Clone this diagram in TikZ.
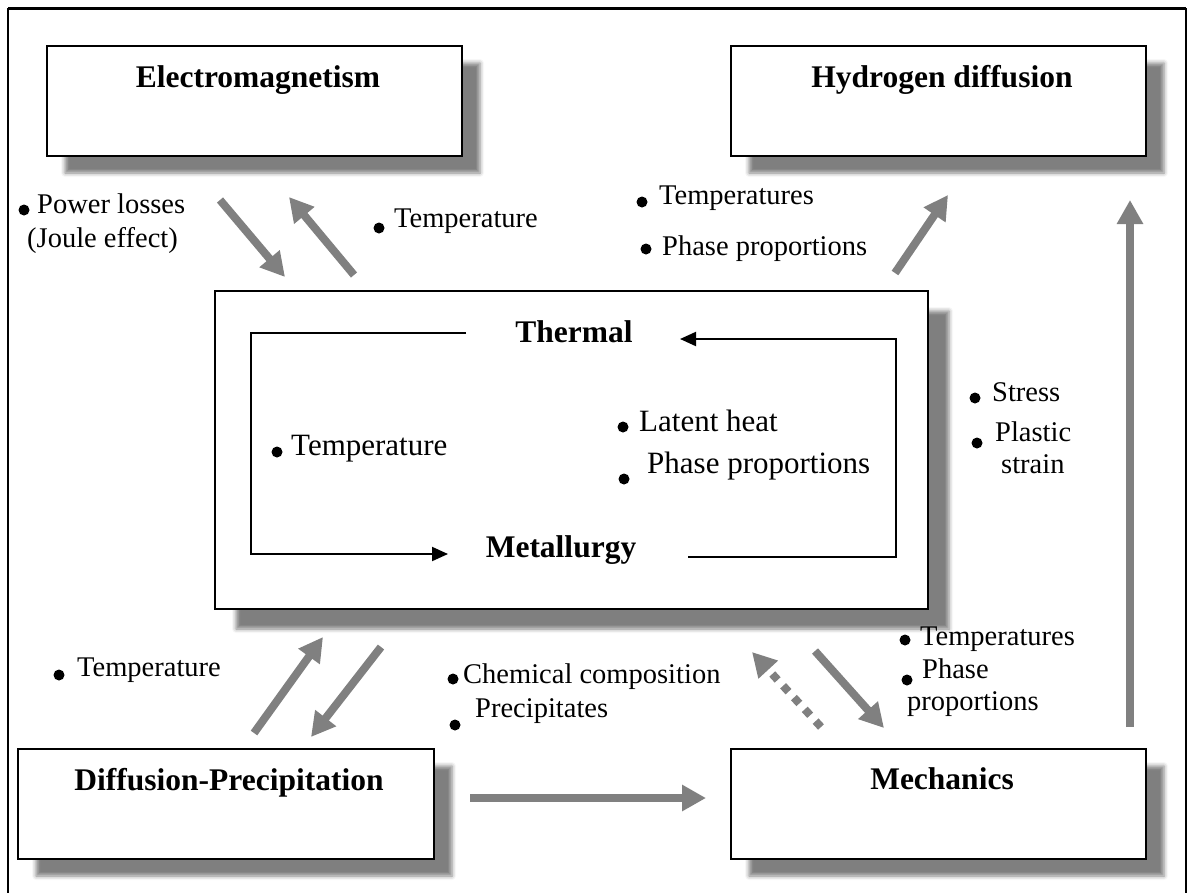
\documentclass[tikz,border=0pt]{standalone}
\usepackage{fontspec}
\setmainfont{Liberation Serif}
\usetikzlibrary{arrows.meta,shadows.blur}
\definecolor{arrowgray}{HTML}{808080}
\begin{document}
\begin{tikzpicture}[x=1pt,y=-1pt,
  box/.style={draw=black, line width=1.5pt, fill=white, inner sep=0pt,
    blur shadow={shadow xshift=18pt, shadow yshift=-17pt, shadow blur radius=4pt, shadow opacity=50}},
  bigbox/.style={draw=black, line width=1.5pt, fill=white, inner sep=0pt,
    blur shadow={shadow xshift=21pt, shadow yshift=-20pt, shadow blur radius=4pt, shadow opacity=50}},
  ttl/.style={font=\fontsize{31.5}{34}\selectfont\bfseries, anchor=base, inner sep=0pt},
  lbl/.style={font=\fontsize{28.5}{30}\selectfont, anchor=base west, inner sep=0pt},
  ilbl/.style={font=\fontsize{31}{33}\selectfont, anchor=base west, inner sep=0pt},
  dot/.style={circle, fill=black, inner sep=0pt, minimum size=11pt},
  flow/.style={draw=arrowgray, line width=8pt, -{Triangle[length=24pt,width=25pt]}},
  dflow/.style={flow, dash pattern=on 8pt off 8pt},
  loopline/.style={draw=black, line width=2pt},
  looptip/.style={-{Triangle[length=16pt,width=14pt]}},
]
\useasboundingbox (0,0) rectangle (1188,892);
% outer frame
\coordinate (fbl) at (8,895);
\coordinate (ftl) at (8,8);
\coordinate (ftr) at (1186,8);
\coordinate (fbr) at (1186,895);
\draw[line width=2pt] (fbl) -- (ftl);
\draw[line width=2pt] (ftr) -- (fbr);
\draw[line width=3pt] (ftl) -- (ftr);

% boxes
\node[box, minimum width=415pt, minimum height=110pt] (em) at (254.5,101) {};
\node[box, minimum width=415pt, minimum height=110pt] (hd) at (938.5,101) {};
\node[bigbox, minimum width=713pt, minimum height=318pt] (ctr) at (571.5,450) {};
\node[box, minimum width=416pt, minimum height=110pt] (dp) at (226,804) {};
\node[box, minimum width=415pt, minimum height=110pt] (me) at (938.5,804) {};

% titles
\node[ttl] (emT) at (258,87) {Electromagnetism};
\node[ttl] (hdT) at (942,87) {Hydrogen diffusion};
\node[ttl] (dpT) at (229,790) {Diffusion-Precipitation};
\node[ttl] (meT) at (942,789) {Mechanics};
\node[ttl] (th) at (574,342) {Thermal};
\node[ttl] (mt) at (561,557) {Metallurgy};

% inner loop
\coordinate (la) at (466,333);
\coordinate (lb) at (251,333);
\coordinate (lc) at (251,554);
\coordinate (ld) at (448,554);
\draw[loopline, looptip] (la) -- (lb) -- (lc) -- (ld);
\coordinate (ra) at (688,557);
\coordinate (rb) at (896,557);
\coordinate (rc) at (896,339);
\coordinate (rd) at (680,339);
\draw[loopline, looptip] (ra) -- (rb) -- (rc) -- (rd);

% inner labels
\node[dot] (d1) at (277,452) {};
\node[ilbl] (t1) at (291,455) {Temperature};
\node[dot] (d2) at (623,427) {};
\node[ilbl] (t2) at (639,431) {Latent heat};
\node[dot] (d3) at (624,479) {};
\node[ilbl] (t3) at (647,473) {Phase proportions};

% outer labels
\node[dot] (d4) at (24,210) {};
\node[lbl] (t4) at (37,213) {Power losses};
\node[lbl] (t5) at (27,247) {(Joule effect)};
\node[dot] (d6) at (379,228) {};
\node[lbl] (t6) at (394,227) {Temperature};
\node[dot] (d7) at (642,202) {};
\node[lbl] (t7) at (659,204) {Temperatures};
\node[dot] (d8) at (646,249) {};
\node[lbl] (t8) at (662,255) {Phase proportions};
\node[dot] (d9) at (975,398) {};
\node[lbl] (t9) at (992,401) {Stress};
\node[dot] (d10) at (977,443) {};
\node[lbl] (t10) at (995,441) {Plastic};
\node[lbl] (t11) at (1001,473) {strain};
\node[dot] (d12) at (905,640) {};
\node[lbl] (t12) at (920,645) {Temperatures};
\node[dot] (d13) at (907,680) {};
\node[lbl] (t13) at (922,678) {Phase};
\node[lbl] (t14) at (907,710) {proportions};
\node[dot] (d15) at (59,675) {};
\node[lbl] (t15) at (77,676) {Temperature};
\node[dot] (d16) at (453,679) {};
\node[lbl] (t16) at (463,683) {Chemical composition};
\node[dot] (d17) at (455,725) {};
\node[lbl] (t17) at (475,717) {Precipitates};

% flow arrows
\coordinate (a1s) at (220,200); \coordinate (a1e) at (285,277);
\coordinate (a2s) at (354,275); \coordinate (a2e) at (289,197);
\coordinate (a3s) at (895,273); \coordinate (a3e) at (948,195);
\coordinate (a4s) at (1130,727); \coordinate (a4e) at (1130,200);
\coordinate (a5s) at (254,733); \coordinate (a5e) at (323,637);
\coordinate (a6s) at (381,647); \coordinate (a6e) at (311,737);
\coordinate (a7s) at (821,727); \coordinate (a7e) at (752,652);
\coordinate (a8s) at (815,651); \coordinate (a8e) at (884,728);
\coordinate (a9s) at (470,798); \coordinate (a9e) at (706,798);
\draw[flow] (a1s) -- (a1e);
\draw[flow] (a2s) -- (a2e);
\draw[flow] (a3s) -- (a3e);
\draw[flow] (a4s) -- (a4e);
\draw[flow] (a5s) -- (a5e);
\draw[flow] (a6s) -- (a6e);
\draw[dflow] (a7s) -- (a7e);
\draw[flow] (a8s) -- (a8e);
\draw[flow] (a9s) -- (a9e);
\end{tikzpicture}
\end{document}
